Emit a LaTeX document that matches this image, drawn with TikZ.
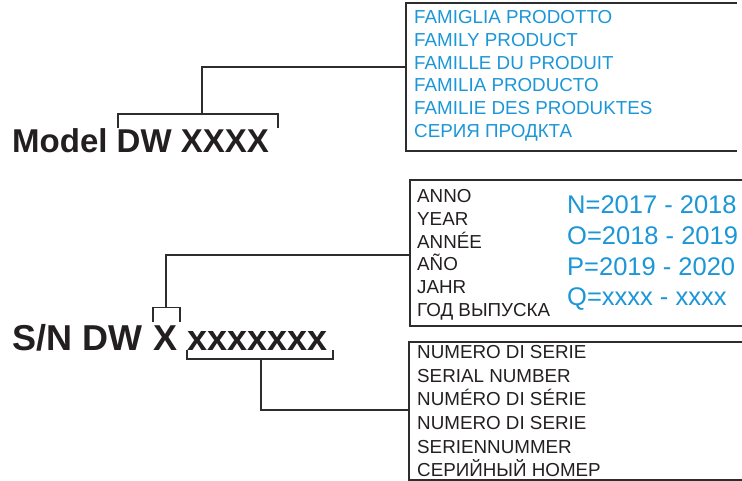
\documentclass[tikz,border=0pt]{standalone}
\usepackage{fontspec}
\setmainfont{Liberation Sans}
\definecolor{txtblue}{RGB}{27,150,214}
\definecolor{ink}{RGB}{35,31,32}
\definecolor{linec}{RGB}{45,45,45}
\tikzset{
  conn/.style={draw=linec, line width=1.6pt, line cap=butt, line join=miter},
  lbl/.style={anchor=base west, inner sep=0pt, text=ink, font=\fontsize{18.8}{20}\selectfont},
  bluelbl/.style={anchor=base west, inner sep=0pt, text=txtblue, font=\fontsize{18.8}{20}\selectfont},
  bigblue/.style={anchor=base west, inner sep=0pt, text=txtblue, font=\fontsize{25.5}{28}\selectfont},
  model/.style={anchor=base west, inner sep=0pt, text=ink, font=\fontsize{33}{36}\selectfont\bfseries},
  serial/.style={anchor=base west, inner sep=0pt, text=ink, font=\fontsize{36}{40}\selectfont\bfseries}
}
\begin{document}
\begin{tikzpicture}[x=1pt,y=-1pt]
\useasboundingbox (0,0) rectangle (742,481);

% ---------- box 1 : family product ----------
\coordinate (b1tr) at (737,3);
\coordinate (b1tl) at (406,3);
\coordinate (b1bl) at (406,151);
\coordinate (b1br) at (737,151);
\draw[conn] (b1tr) -- (b1tl) -- (b1bl) -- (b1br);
\node[bluelbl] (f1) at (414,24) {FAMIGLIA PRODOTTO};
\node[bluelbl] (f2) at (414,46.7) {FAMILY PRODUCT};
\node[bluelbl] (f3) at (414,69.3) {FAMILLE DU PRODUIT};
\node[bluelbl] (f4) at (414,92) {FAMILIA PRODUCTO};
\node[bluelbl] (f5) at (414,114.7) {FAMILIE DES PRODUKTES};
\node[bluelbl] (f6) at (414,137.3) {СЕРИЯ ПРОДКТА};

% ---------- box 2 : year ----------
\coordinate (b2tr) at (742,180);
\coordinate (b2tl) at (410,180);
\coordinate (b2bl) at (410,326);
\coordinate (b2br) at (742,326);
\draw[conn] (b2tr) -- (b2tl) -- (b2bl) -- (b2br);
\node[lbl] (y1) at (417,202.7) {ANNO};
\node[lbl] (y2) at (417,225.5) {YEAR};
\node[lbl] (y3) at (417,248.3) {ANNÉE};
\node[lbl] (y4) at (417,271) {AÑO};
\node[lbl] (y5) at (417,293.8) {JAHR};
\node[lbl] (y6) at (417,316.6) {ГОД ВЫПУСКА};
\node[bigblue] (n1) at (567,213.5) {N=2017 - 2018};
\node[bigblue] (n2) at (567,245) {O=2018 - 2019};
\node[bigblue] (n3) at (567,275.5) {P=2019 - 2020};
\node[bigblue] (n4) at (567,305.5) {Q=xxxx - xxxx};

% ---------- box 3 : serial number ----------
\coordinate (b3tr) at (742,342);
\coordinate (b3tl) at (409,342);
\coordinate (b3bl) at (409,480);
\coordinate (b3br) at (742,480);
\draw[conn] (b3tr) -- (b3tl) -- (b3bl) -- (b3br);
\node[lbl] (s1) at (417,358.3) {NUMERO DI SERIE};
\node[lbl] (s2) at (417,382) {SERIAL NUMBER};
\node[lbl] (s3) at (417,405.7) {NUMÉRO DI SÉRIE};
\node[lbl] (s4) at (417,429.4) {NUMERO DI SERIE};
\node[lbl] (s5) at (417,453) {SERIENNUMMER};
\node[lbl] (s6) at (417,476.7) {СЕРИЙНЫЙ НОМЕР};

% ---------- model line ----------
\node[model] (model) at (12,153) {Model DW XXXX};
\coordinate (mbl) at (118,128);
\coordinate (mbr) at (278,128);
\coordinate (mbm) at (202,114);
\draw[conn] (mbl) -- (118,114) -- (278,114) -- (mbr);
\draw[conn] (mbm) |- (b1tl |- 0,67);

% ---------- serial line ----------
\node[serial] (sn) at (12,350) {S/N DW};
\node[serial] (snX) at (153,350) {X};
\node[serial] (snx) at (187.5,350) {xxxxxxx};
% bracket over X
\draw[conn] (153,322) -- (153,307.5) -- (180,307.5) -- (180,322);
\coordinate (xm) at (166,307.5);
\draw[conn] (xm) |- (b2tl |- 0,255);
% bracket under xxxxxxx
\draw[conn] (187,350) -- (187,359) -- (333,359) -- (333,350);
\coordinate (lm) at (261,359);
\draw[conn] (lm) |- (b3tl |- 0,410);
\end{tikzpicture}
\end{document}
